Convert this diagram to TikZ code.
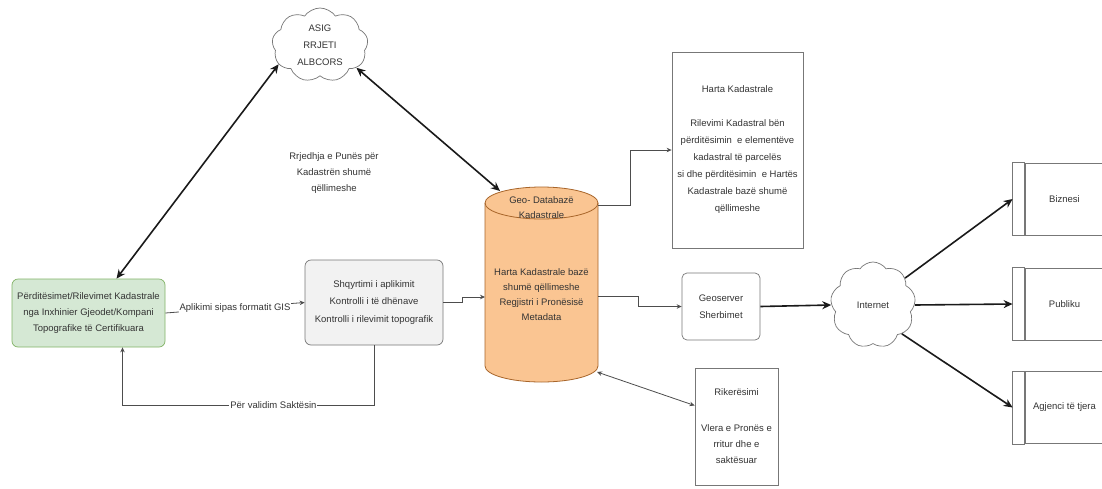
\documentclass[tikz,border=0pt]{standalone}
\usepackage{fontspec}
\setmainfont{Liberation Sans}
\usetikzlibrary{shapes.symbols,arrows.meta}
\definecolor{txt}{HTML}{333333}
\definecolor{ink}{HTML}{1A1A1A}
\definecolor{wire}{HTML}{4D4D4D}
\definecolor{greenfill}{HTML}{D5E8D4}
\definecolor{greenline}{HTML}{82B366}
\definecolor{grayfill}{HTML}{F2F2F2}
\definecolor{grayline}{HTML}{777777}
\definecolor{dbfill}{HTML}{FAC592}
\definecolor{dbline}{HTML}{A8652A}
\begin{document}
\begin{tikzpicture}[x=1pt,y=-1pt,
  every node/.style={font=\fontsize{9.5}{16}\selectfont, text=txt, align=center, inner sep=2pt},
  cloudbox/.style={cloud, cloud puffs=9, cloud puff arc=110, cloud ignores aspect, draw=grayline, line width=0.7pt, fill=white},
  greenbox/.style={rectangle, rounded corners=6pt, draw=greenline, fill=greenfill, line width=0.7pt},
  graybox/.style={rectangle, rounded corners=6pt, draw=grayline, fill=grayfill, line width=0.7pt},
  roundbox/.style={rectangle, rounded corners=5pt, draw=grayline, fill=white, line width=0.7pt},
  plainbox/.style={rectangle, draw=grayline, fill=white, line width=0.8pt},
  procbox/.style={rectangle, draw=grayline, fill=white, line width=0.8pt, minimum width=79pt, minimum height=72pt},
  bold/.style={draw=ink, line width=1.6pt, arrows={-Stealth[length=9pt,width=8pt]}},
  boldboth/.style={draw=ink, line width=1.6pt, arrows={Stealth[length=9pt,width=8pt]-Stealth[length=9pt,width=8pt]}},
  conn/.style={draw=wire, line width=0.8pt, arrows={-Stealth[length=5pt,width=4.5pt]}},
  connboth/.style={draw=wire, line width=0.8pt, arrows={Stealth[length=5pt,width=4.5pt]-Stealth[length=5pt,width=4.5pt]}},
  lbl/.style={fill=white, inner sep=1pt}]

\useasboundingbox[fill=white] (0,0) rectangle (1102,488);

% --- reference station network
\node[cloudbox, minimum width=96pt, minimum height=74pt, font=\fontsize{9.5}{17}\selectfont] (asig) at (320,45) {ASIG\\RRJETI\\ALBCORS};

% --- workflow caption
\node (flow) at (334,173) {Rrjedhja e Punës për\\Kadastrën shumë\\qëllimeshe};

% --- survey submission and review
\node[greenbox, minimum width=153pt, minimum height=68pt] (green) at (88.5,313)
  {Përditësimet/Rilevimet Kadastrale\\nga Inxhinier Gjeodet/Kompani\\Topografike të Certifikuara};
\node[graybox, minimum width=138pt, minimum height=85pt, font=\fontsize{9.5}{17.5}\selectfont] (gray) at (374,302.5)
  {Shqyrtimi i aplikimit\\Kontrolli i të dhënave\\Kontrolli i rilevimit topografik};

% --- cadastral geo-database (cylinder)
\filldraw[fill=dbfill, draw=dbline, line width=0.8pt]
  (485,203) -- (485,366)
  arc[start angle=180, end angle=360, x radius=56.5pt, y radius=16pt]
  -- (598,203)
  arc[start angle=0, end angle=180, x radius=56.5pt, y radius=16pt] -- cycle;
\draw[dbline, line width=0.8pt] (485,203) arc[start angle=180, end angle=360, x radius=56.5pt, y radius=16pt];
\node[font=\fontsize{9.5}{15}\selectfont] (dbtitle) at (541.5,207.5) {Geo- Databazë\\Kadastrale};
\node[font=\fontsize{9.5}{15}\selectfont, minimum width=113pt] (db) at (541.5,295)
  {Harta Kadastrale bazë\\shumë qëllimeshe\\Regjistri i Pronësisë\\Metadata};
\coordinate (dbtop) at (500,191);
\coordinate (dbin) at (485,297);
\coordinate (dbne) at (598,205);
\coordinate (dbe) at (598,296);
\coordinate (dbse) at (597,372);

% --- outputs of the database
\node[plainbox, minimum width=131pt, minimum height=196pt, font=\fontsize{9.5}{17}\selectfont] (harta) at (737.5,150)
  {Harta Kadastrale\\[17pt]Rilevimi Kadastral bën\\përditësimin\ \ e elementëve\\kadastral të parcelës\\si dhe përditësimin\ \ e Hartës\\Kadastrale bazë shumë\\qëllimeshe};
\node[roundbox, minimum width=78pt, minimum height=67pt, font=\fontsize{9.5}{17}\selectfont] (geo) at (721,306.5) {Geoserver\\Sherbimet};
\node[plainbox, minimum width=83pt, minimum height=117pt] (rik) at (736.5,426.5)
  {Rikerësimi\\[20pt]Vlera e Pronës e\\rritur dhe e\\saktësuar};

% --- internet and consumers
\node[cloudbox, minimum width=85pt, minimum height=86pt] (inet) at (873,305) {Internet};
\node[procbox] (biz) at (1064.5,199) {Biznesi};
\node[procbox] (pub) at (1064.5,304) {Publiku};
\node[procbox] (agj) at (1064.5,407.5) {Agjenci të tjera};
\foreach \b in {biz,pub,agj}
  \draw[draw=grayline, line width=0.8pt, fill=white] ([xshift=-12pt]\b.north west) rectangle (\b.south west);

% --- connectors
\draw[boldboth] (asig.205) -- ([xshift=28pt]green.north);
\draw[boldboth] (asig.-32) -- (dbtop);
\draw[conn] (green.east) -- node[lbl] {Aplikimi sipas formatit GIS} (gray.west);
\draw[conn] (gray.east) -- ++(19,0) |- (dbin);
\draw[conn] (gray.south) -- ++(0,60) -| node[lbl, pos=0.2] {Për validim Saktësin} ([xshift=34pt]green.south);
\draw[conn] (dbne) -- ++(32,0) |- (harta.west);
\draw[conn] (dbe) -- ++(40,0) |- (geo.west);
\draw[connboth] (dbse) -- ([yshift=21pt]rik.west);
\draw[bold] (geo.east) -- (inet.west);
\draw[bold] (inet.40) -- ([xshift=-12pt]biz.west);
\draw[bold] (inet.east) -- ([xshift=-12pt]pub.west);
\draw[bold] (inet.-45) -- ([xshift=-12pt]agj.west);
\end{tikzpicture}
\end{document}
